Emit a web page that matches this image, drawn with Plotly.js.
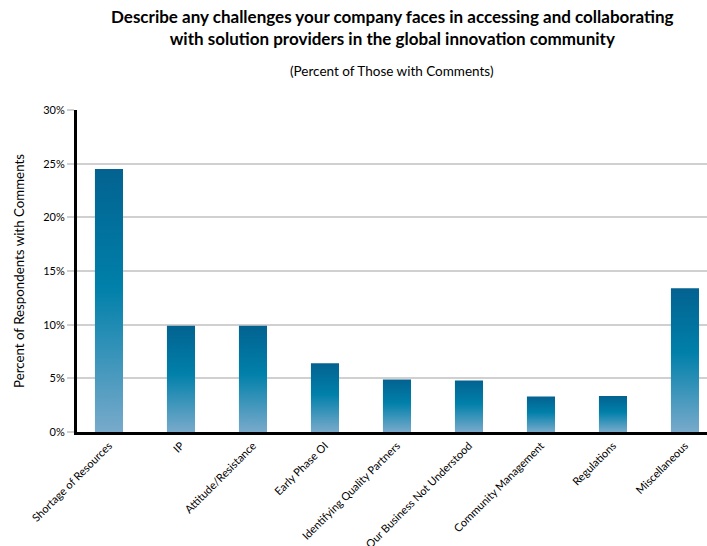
<!DOCTYPE html>
<html><head><meta charset="utf-8">
<script src="https://cdn.plot.ly/plotly-3.0.1.min.js"></script>
<style>body{margin:0;background:#fff}#chart{width:707px;height:546px}</style>
</head><body><div id="chart"></div>
<script>
const categories = ["Shortage of Resources","IP","Attitude/Resistance","Early Phase OI","Identifying Quality Partners","Our Business Not Understood","Community Management","Regulations","Miscellaneous"];
const values = [24.5, 9.9, 9.9, 6.4, 4.9, 4.8, 3.3, 3.35, 13.4];
const yTickVals = [0, 5, 10, 15, 20, 25, 30];
const yTickText = ["0%","5%","10%","15%","20%","25%","30%"];

const trace = {
  type: "bar", x: categories.map((c,i)=>i), y: values, width: 0.39,
  marker: {color: "#0080aa", line: {width: 0}}, hoverinfo: "none"
};
const font = "Lato, 'Open Sans', sans-serif";
const layout = {
  width: 707, height: 546, paper_bgcolor: "#fff", plot_bgcolor: "#fff",
  margin: {l: 77, r: 0, t: 110, b: 114},
  font: {family: font, color: "#000", size: 11},
  showlegend: false,
  xaxis: {
    range: [-0.444, 8.306], tickmode: "array", tickvals: categories.map((c,i)=>i), ticktext: categories,
    tickangle: -45, tickfont: {size: 11, family: font, color: "#000"}, showgrid: false, zeroline: false,
    showline: true, linecolor: "#000", linewidth: 3, ticks: "", fixedrange: true
  },
  yaxis: {
    range: [0, 30], tickvals: yTickVals, ticktext: yTickText, tickfont: {size: 11, family: font, color: "#000"},
    showgrid: true, gridcolor: "#d0d0d0", gridwidth: 2, zeroline: false,
    showline: true, linecolor: "#000", linewidth: 3, ticks: "outside", ticklen: 7, tickcolor: "#d0d0d0", tickwidth: 2,
    title: {text: "Percent of Respondents with Comments", font: {size: 13.3, family: font, color: "#000"}, standoff: 16}
  },
  annotations: [
    {xref: "paper", yref: "paper", x: 0.5, y: 1, yshift: 83, xanchor: "center", yanchor: "middle", showarrow: false,
     text: "<b>Describe any challenges your company faces in accessing and collaborating<br>with solution providers in the global innovation community</b>",
     font: {size: 17, family: font, color: "#000"}},
    {xref: "paper", yref: "paper", x: 0.5, y: 1, yshift: 39, xanchor: "center", yanchor: "middle", showarrow: false,
     text: "(Percent of Those with Comments)", font: {size: 13.5, family: font, color: "#000"}}
  ]
};
Plotly.newPlot("chart", [trace], layout, {staticPlot: true}).then(gd => {
  const svg = gd.querySelector("svg.main-svg");
  const ns = "http://www.w3.org/2000/svg";
  let defs = svg.querySelector("defs");
  const g = document.createElementNS(ns, "linearGradient");
  g.setAttribute("id", "barGrad"); g.setAttribute("x1", "0"); g.setAttribute("y1", "0");
  g.setAttribute("x2", "0"); g.setAttribute("y2", "1");
  [["0", "#036290"], ["0.45", "#0080aa"], ["1", "#78aacb"]].forEach(([o, c]) => {
    const s = document.createElementNS(ns, "stop"); s.setAttribute("offset", o); s.setAttribute("stop-color", c); g.appendChild(s);
  });
  defs.appendChild(g);
  gd.querySelectorAll(".bars .point path").forEach(p => { p.style.fill = "url(#barGrad)"; });
});
</script></body></html>
